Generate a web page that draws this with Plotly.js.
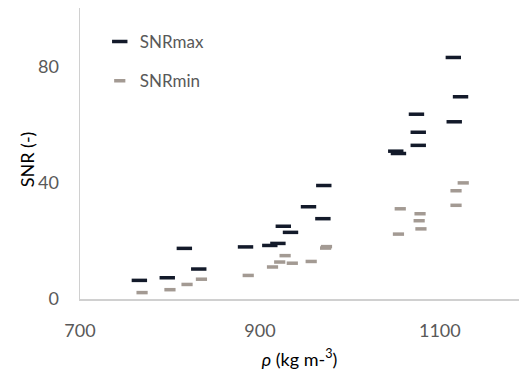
<!DOCTYPE html>
<html>
<head>
<meta charset="utf-8">
<script src="https://cdn.plot.ly/plotly-3.0.1.min.js"></script>
<style>html,body{margin:0;padding:0;background:#fff;}#chart{width:519px;height:379px;}</style>
</head>
<body>
<div id="chart"></div>
<script>
// Density (kg m-3) and SNR values
var rhoMax = [766, 797, 816, 832, 884, 911, 920, 926, 934, 954, 970, 971, 1051, 1054, 1074, 1076, 1076, 1115, 1116, 1123];
var snrMax = [6.4, 7.3, 17.4, 10.3, 17.9, 18.4, 19.1, 25.0, 22.9, 31.7, 27.6, 39.0, 50.8, 50.0, 63.5, 57.3, 52.8, 83.0, 60.9, 69.5];
var rhoMin = [769, 800, 819, 835, 887, 914, 922, 928, 936, 957, 973, 974, 1054, 1056, 1077, 1078, 1079, 1118, 1118, 1126];
var snrMin = [2.2, 3.2, 5.0, 6.8, 8.1, 11.0, 12.7, 14.9, 12.3, 12.9, 17.5, 18.0, 22.3, 31.0, 26.9, 29.3, 24.1, 37.2, 32.2, 39.9];
var seriesNames = ['SNRmax', 'SNRmin'];
var xTicks = [700, 900, 1100];
var yTicks = [0, 40, 80];

var FONT = 'Lato, "Open Sans", sans-serif';

var traces = [
  {
    x: rhoMax, y: snrMax, name: seriesNames[0], type: 'scatter', mode: 'markers',
    legendgroup: 'a',
    marker: {symbol: 'line-ew', size: 11, line: {width: 3.5, color: '#131a2a'}}
  },
  {
    x: rhoMin, y: snrMin, name: seriesNames[1], type: 'scatter', mode: 'markers',
    legendgroup: 'b',
    marker: {symbol: 'line-ew', size: 8, line: {width: 3.5, color: '#a39a93'}}
  }
];

var layout = {
  width: 519, height: 379,
  margin: {l: 80, r: 0, t: 8, b: 80},
  paper_bgcolor: '#fff', plot_bgcolor: '#fff',
  font: {family: FONT, color: '#595959', size: 17},
  showlegend: true,
  legend: {
    x: 0.045, y: 0.945, xanchor: 'left', yanchor: 'top',
    bgcolor: 'rgba(0,0,0,0)', font: {size: 17, color: '#595959'},
    traceorder: 'grouped', tracegroupgap: 14
  },
  xaxis: {
    range: [700, 1188], tickvals: xTicks, ticktext: xTicks.map(String),
    showgrid: false, zeroline: false, showline: true, linecolor: '#d0d0d0', linewidth: 1.5,
    ticks: 'outside', ticklen: 15, tickcolor: 'rgba(0,0,0,0)', tickfont: {size: 18, color: '#595959'},
    title: {text: '<i>ρ</i> (kg m-<sup>3</sup>)', font: {size: 18, color: '#000'}, standoff: 13}
  },
  yaxis: {
    range: [0, 100], tickvals: yTicks, ticktext: yTicks.map(String),
    showgrid: false, zeroline: false, showline: true, linecolor: '#d0d0d0', linewidth: 1.5,
    ticks: 'outside', ticklen: 16, tickcolor: 'rgba(0,0,0,0)', tickfont: {size: 18, color: '#595959'}
  },
  annotations: [{
    text: 'SNR (-)', xref: 'paper', yref: 'paper', x: 0, y: 0.48,
    xanchor: 'center', yanchor: 'middle', xshift: -53, textangle: -90,
    showarrow: false, font: {size: 18, color: '#000', family: FONT}
  }]
};

Plotly.newPlot('chart', traces, layout, {displayModeBar: false, staticPlot: true});
</script>
</body>
</html>
